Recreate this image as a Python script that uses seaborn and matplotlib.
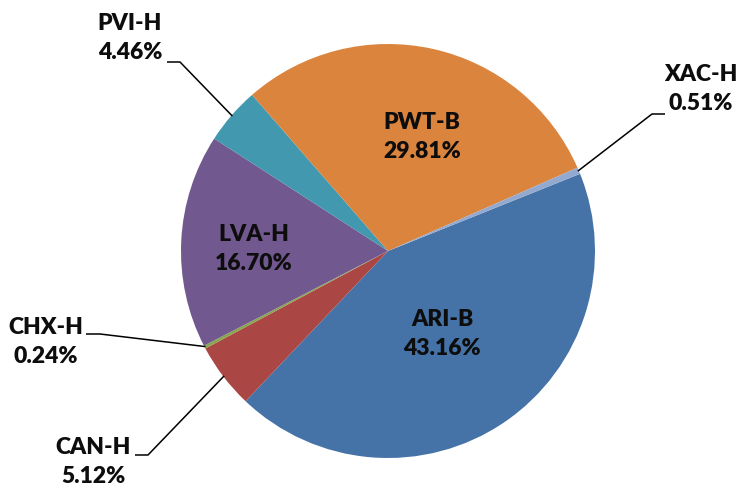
import numpy as np
import seaborn as sns
import matplotlib.pyplot as plt

# data (clockwise from the XAC-H / ARI-B boundary)
labels = ["ARI-B", "CAN-H", "CHX-H", "LVA-H", "PVI-H", "PWT-B", "XAC-H"]
shares = [43.16, 5.12, 0.24, 16.70, 4.46, 29.81, 0.51]
colors = ["#4573A7", "#AA4643", "#89A54E", "#71588F", "#4198AF", "#DB843D", "#93A9CF"]

sns.set_theme(style="white")
plt.rcParams["font.family"] = ["Lato", "DejaVu Sans"]

fig = plt.figure(figsize=(7.4, 4.9), dpi=100)
ax = fig.add_axes([0, 0, 1, 1])

start = 21.9
wedges, _ = ax.pie(shares, colors=colors, startangle=start, counterclock=False,
                   radius=1.0, center=(0, 0),
                   wedgeprops=dict(linewidth=0))

# pixel -> data helper (center 388,251 ; radius 207 px)
cx, cy, rp = 388, 251, 207
def px(x, y):
    return (x - cx) / rp, (cy - y) / rp

font = dict(fontsize=16.5, fontweight="heavy", color="#0d0d0d",
            ha="center", va="center", linespacing=1.45)

# labels inside the big slices
inside = {"ARI-B": (442, 334), "PWT-B": (422, 137), "LVA-H": (254, 249)}
# labels outside with leader lines: text position, elbow start, elbow end
outside = {
    "PVI-H": ((130, 38), (167, 62), (180, 62)),
    "XAC-H": ((701, 89), (665, 114), (652, 114)),
    "CHX-H": ((46, 342), (86, 334), (100, 334)),
    "CAN-H": ((93, 462), (135, 455), (148, 455)),
}

for w, lab, s in zip(wedges, labels, shares):
    txt = f"{lab}\n{s:.2f}%"
    if lab in inside:
        ax.text(*px(*inside[lab]), txt, **font)
    else:
        tpos, p0, p1 = outside[lab]
        ax.text(*px(*tpos), txt, **font)
        mid = np.deg2rad((w.theta1 + w.theta2) / 2)
        ex, ey = np.cos(mid) * 0.995, np.sin(mid) * 0.995
        x0, y0 = px(*p0)
        x1, y1 = px(*p1)
        ax.plot([x0, x1, ex], [y0, y1, ey], color="black", lw=1.1,
                solid_capstyle="butt")

ax.set_aspect("auto")
ax.set_xlim(-cx / rp, (740 - cx) / rp)
ax.set_ylim(-(490 - cy) / rp, cy / rp)
ax.axis("off")

fig.savefig("out.png", dpi=100, facecolor="white")
